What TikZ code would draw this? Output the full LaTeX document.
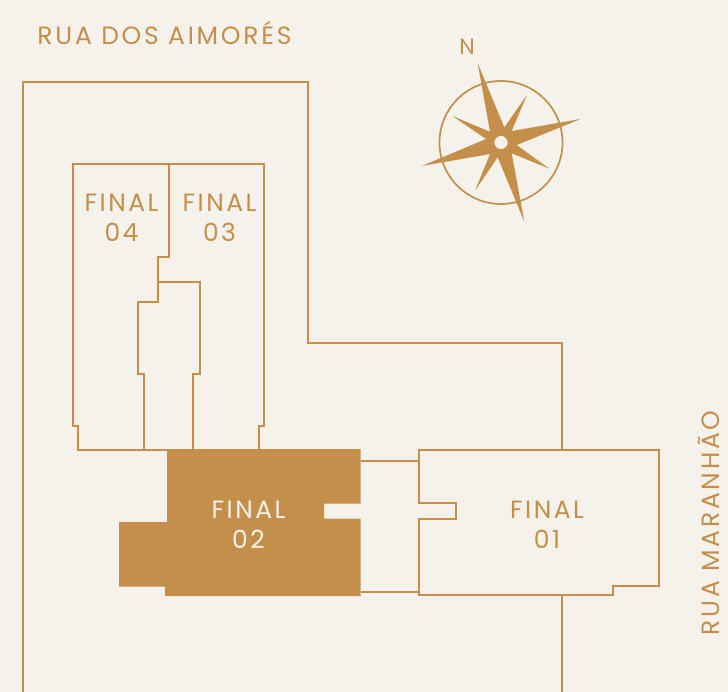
\documentclass[tikz,border=0pt]{standalone}
\usepackage{fontspec}
\setmainfont{Poppins}
\newfontfamily\planfont[LetterSpace=10]{Poppins}
\newfontfamily\streetfont[LetterSpace=11]{Poppins}
\definecolor{gold}{HTML}{C38F4B}
\definecolor{paper}{HTML}{F5F2EB}
\begin{document}
\begin{tikzpicture}[x=1pt, y=-1pt,
		wall/.style={draw=gold, line width=2pt, line join=miter},
		unit/.style={font=\planfont\fontsize{25}{30}\selectfont, text=gold, align=center, inner sep=0pt},
		street/.style={font=\streetfont\fontsize{25}{30}\selectfont, text=gold, inner sep=0pt}]
		% page
		\fill[paper] (0,0) rectangle (728,692);
		\useasboundingbox (0,0) rectangle (728,692);
		% lot
		\draw[wall] (23,692) -- (23,82) -- (308,82) -- (308,343) -- (562,343) -- (562,450);
		\draw[wall] (562,595) -- (562,692);
		% finals 04 and 03
		\draw[wall] (167,449.5) -- (78,449.5) -- (78,426) -- (72.5,426) -- (72.5,164) -- (264,164) -- (264,426) -- (258.5,426) -- (258.5,449.5);
		\draw[wall] (168.5,164) -- (168.5,257.5) -- (158,257.5) -- (158,302) -- (137.5,302) -- (137.5,374.5) -- (144,374.5) -- (144,449.5);
		\draw[wall] (158,282.5) -- (199.5,282.5) -- (199.5,374.5) -- (192.5,374.5) -- (192.5,449.5);
		% final 02
		\fill[gold] (167,449) -- (360.5,449) -- (360.5,503.5) -- (324,503.5) -- (324,518.5) -- (360.5,518.5) -- (360.5,596) -- (165,596) -- (165,586.5) -- (119,586.5) -- (119,522) -- (167,522) -- cycle;
		% final 01
		\draw[wall] (360.5,460.5) -- (419,460.5);
		\draw[wall] (360.5,591.5) -- (419,591.5);
		\draw[wall] (419,450) -- (659,450) -- (659,585.5) -- (613,585.5) -- (613,595) -- (419,595) -- (419,519) -- (455.5,519) -- (455.5,502.5) -- (419,502.5) -- cycle;
		% compass
		\coordinate (center) at (501,142.5);
		\draw[gold, line width=1.7pt] (center) circle (61.5);
		\fill[gold, even odd rule] (477.7,63.3) -- (504.3,127.3) -- (527,95) -- (511.7,131) -- (580.7,119) -- (516.7,145) -- (549.3,168.7) -- (511.7,153.3) -- (524.3,221.7) -- (497.7,157.3) -- (475,190.7) -- (490,154) -- (421.7,166) -- (486,139) -- (452.3,116) -- (490,131.7) -- cycle (center) circle (6.7);
		\node[font=\planfont\fontsize{22}{22}\selectfont, text=gold, inner sep=0pt] (north) at (467,47) {N};
		% labels
		\node[unit] (final4) at (121.5,218) {FINAL\\04};
		\node[unit] (final3) at (219.5,218) {FINAL\\03};
		\node[unit, text=paper] (final2) at (248.5,525) {FINAL\\02};
		\node[unit] (final1) at (547,525) {FINAL\\01};
		\node[street] (aimores) at (164.5,33) {RUA DOS AIMORÉS};
		\node[street, rotate=90] (maranhao) at (708.5,523) {RUA MARANHÃO};
\end{tikzpicture}
\end{document}
